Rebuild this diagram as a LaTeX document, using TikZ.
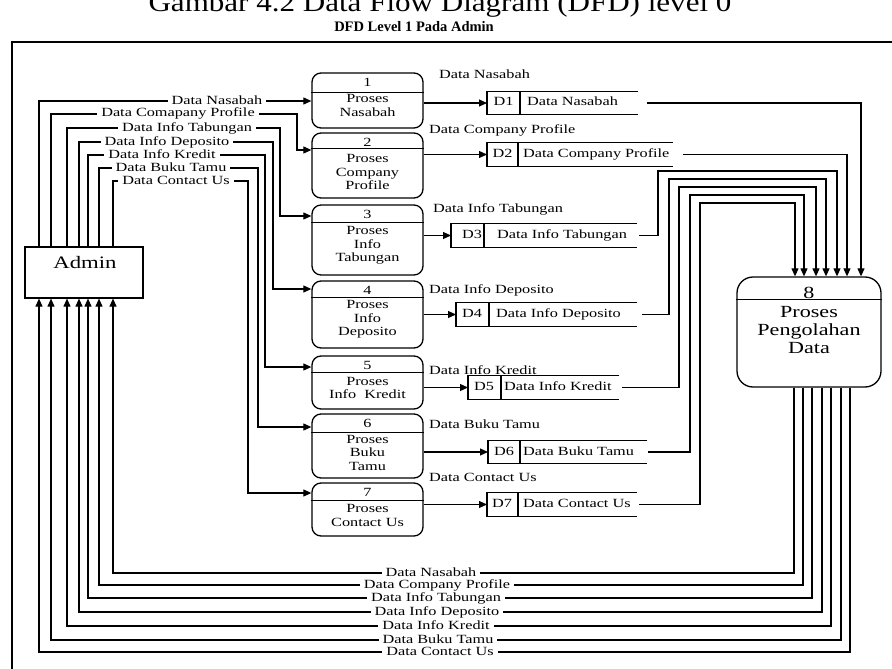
\documentclass[tikz,border=0pt]{standalone}
\usepackage{fontspec}
\setmainfont{Liberation Serif}
\newfontfamily\dfdfont{Liberation Serif}[FakeStretch=1.3]
\newfontfamily\headfont{Liberation Serif}[FakeStretch=1.15]
\usetikzlibrary{arrows.meta}

\begin{document}
\begin{tikzpicture}[x=1pt,y=-1pt,
  line/.style={line width=1.1pt},
  flow/.style={line width=1.1pt,-{Triangle[length=8pt,width=7pt]}},
  proc/.style={draw,line width=1.3pt,rounded corners=9pt,minimum width=111pt,inner sep=0pt},
  store/.style={inner sep=0pt,minimum height=23pt},
  txt/.style={font=\dfdfont\fontsize{12.5}{13.5}\selectfont,inner sep=0pt,align=center},
  one/.style={txt,text height=8.5pt,text depth=2.5pt},
  lbl/.style={one,fill=white,inner xsep=4pt,inner ysep=1pt},
]
\useasboundingbox (0,0) rectangle (892,669);

% headings
\node[font=\headfont\fontsize{27}{30}\selectfont,anchor=base,inner sep=0pt] (title) at (440,11.5)
  {Gambar 4.2 Data Flow Diagram (DFD) level 0};
\node[font=\bfseries\fontsize{14.5}{16}\selectfont,inner sep=0pt] (subtitle) at (414,27)
  {DFD Level 1 Pada Admin};

% outer frame
\draw[line width=2.6pt] (900,42) -- (12,42) -- (12,680);

% external entity
\node[draw,line width=1.2pt,minimum width=118pt,minimum height=51pt,inner sep=0pt] (admin) at (84,272.5) {};
\node[font=\dfdfont\fontsize{17.5}{20}\selectfont,inner sep=0pt] (admintxt) at (85,263) {Admin};

% processes 1-7
\foreach \n/\cy/\h/\dv/\ly/\num/\lab in {
  p1/100.5/55/20/105.5/1/{Proses\\Nasabah},
  p2/165.5/65/16/172/2/{Proses\\Company\\Profile},
  p3/240/70/18/245.5/3/{Proses\\Info\\Tabungan},
  p4/314.5/67/17/319.5/4/{Proses\\Info\\Deposito},
  p5/382.5/53/17/388/5/{Proses\\Info\ \ Kredit},
  p6/446/64/19/452.5/6/{Proses\\Buku\\Tamu},
  p7/509.5/53/18/515.5/7/{Proses\\Contact Us}}
{
  \node[proc,minimum height=\h pt] (\n) at (367.5,\cy) {};
  \draw[line width=1.1pt] ([yshift=-\dv pt]\n.north west) -- ([yshift=-\dv pt]\n.north east);
  \node[one] (\n num) at ([yshift=-11pt]\n.north) {\num};
  \node[txt] (\n txt) at (367.5,\ly) {\lab};
}

% process 8
\node[proc,rounded corners=16pt,minimum width=144pt,minimum height=110pt] (p8) at (809,332) {};
\draw[line width=1.1pt] ([yshift=-23pt]p8.north west) -- ([yshift=-23pt]p8.north east);
\node[font=\dfdfont\fontsize{17}{18}\selectfont,inner sep=0pt] (p8num) at (809,293) {8};
\node[font=\dfdfont\fontsize{17}{18}\selectfont,inner sep=0pt,align=center] (p8txt) at (809,330)
  {Proses\\Pengolahan\\Data};

% data stores
\foreach \n/\xl/\yc/\w/\s/\i/\t/\id/\name in {
  d1/487/103/151/33/16.5/40/D1/Data Nasabah,
  d2/487/154.5/186/31/15.5/36/D2/Data Company Profile,
  d3/451/235.5/186/33/21/46/D3/Data Info Tabungan,
  d4/456/314.5/181/33/16/40/D4/Data Info Deposito,
  d5/468/387.5/151/33/16/36/D5/Data Info Kredit,
  d6/488/452/159/32/16/35/D6/Data Buku Tamu,
  d7/487/504.5/150/31/15/36/D7/Data Contact Us}
{
  \node[store,minimum width=\w pt,anchor=west] (\n) at (\xl,\yc) {};
  \draw[line] (\n.north east) -| (\n.south west) -- (\n.south east);
  \draw[line] ([xshift=\s pt]\n.north west) -- ([xshift=\s pt]\n.south west);
  \node[one] (\n id) at ([xshift=\i pt]\n.west) {\id};
  \node[one,anchor=west] (\n txt) at ([xshift=\t pt]\n.west) {\name};
}

% flow labels above the stores
\node[one,anchor=west] (s1) at (439,75) {Data Nasabah};
\node[one,anchor=west] (s2) at (429,130) {Data Company Profile};
\node[one,anchor=west] (s3) at (433,209) {Data Info Tabungan};
\node[one,anchor=west] (s4) at (429,290) {Data Info Deposito};
\node[one,anchor=west] (s5) at (429,371) {Data Info Kredit};
\node[one,anchor=west] (s6) at (429,425) {Data Buku Tamu};
\node[one,anchor=west] (s7) at (429,478) {Data Contact Us};

% Admin -> processes
\draw[flow] (admin.north -| 39,0) |- (p1.west |- 0,101);
\draw[flow] (admin.north -| 51,0) |- (297,114) |- (p2.west |- 0,150);
\draw[flow] (admin.north -| 67,0) |- (280,128) |- (p3.west |- 0,216);
\draw[flow] (admin.north -| 79,0) |- (273,142) |- (p4.west |- 0,289);
\draw[flow] (admin.north -| 88,0) |- (265,155) |- (p5.west |- 0,367);
\draw[flow] (admin.north -| 99,0) |- (258,168) |- (p6.west |- 0,427);
\draw[flow] (admin.north -| 113,0) |- (248,181) |- (p7.west |- 0,493);

\node[lbl] (a1) at (217,101) {Data Nasabah};
\node[lbl] (a2) at (178,114) {Data Comapany Profile};
\node[lbl] (a3) at (187,128) {Data Info Tabungan};
\node[lbl] (a4) at (167,142) {Data Info Deposito};
\node[lbl] (a5) at (162,155) {Data Info Kredit};
\node[lbl] (a6) at (171,168) {Data Buku Tamu};
\node[lbl] (a7) at (176,181) {Data Contact Us};

% processes -> stores
\foreach \p/\d in {p1/d1,p2/d2,p3/d3,p4/d4,p5/d5,p6/d6,p7/d7}
  \draw[flow] (\p.east |- \d.west) -- (\d.west);

% stores -> process 8
\draw[flow] ([xshift=9pt]d1.east) -| ([xshift=52pt]p8.north);
\draw[flow] ([xshift=10pt]d2.east) -| ([xshift=38pt]p8.north);
\draw[flow] ([xshift=2pt]d3.east) -| (658,171) -| ([xshift=28pt]p8.north);
\draw[flow] ([xshift=5pt]d4.east) -| (669,179) -| ([xshift=17pt]p8.north);
\draw[flow] ([xshift=3pt]d5.east) -| (679,187) -| ([xshift=7pt]p8.north);
\draw[flow] ([xshift=1pt]d6.east) -| (690,195) -| ([xshift=-5pt]p8.north);
\draw[flow] ([xshift=2pt]d7.east) -| (700,203) -| ([xshift=-14pt]p8.north);

% process 8 -> Admin
\draw[flow] ([xshift=-15pt]p8.south) |- (113,573) -- (admin.south -| 113,0);
\draw[flow] ([xshift=-6pt]p8.south) |- (99,585) -- (admin.south -| 99,0);
\draw[flow] ([xshift=3pt]p8.south) |- (88,598) -- (admin.south -| 88,0);
\draw[flow] ([xshift=13pt]p8.south) |- (79,612) -- (admin.south -| 79,0);
\draw[flow] ([xshift=22pt]p8.south) |- (67,626) -- (admin.south -| 67,0);
\draw[flow] ([xshift=32pt]p8.south) |- (51,640) -- (admin.south -| 51,0);
\draw[flow] ([xshift=41pt]p8.south) |- (39,652) -- (admin.south -| 39,0);

\node[lbl] (b1) at (431,573) {Data Nasabah};
\node[lbl] (b2) at (437,585) {Data Company Profile};
\node[lbl] (b3) at (436,598) {Data Info Tabungan};
\node[lbl] (b4) at (437,612) {Data Info Deposito};
\node[lbl] (b5) at (436,626) {Data Info Kredit};
\node[lbl] (b6) at (438,640) {Data Buku Tamu};
\node[lbl] (b7) at (440,652) {Data Contact Us};
\end{tikzpicture}
\end{document}
